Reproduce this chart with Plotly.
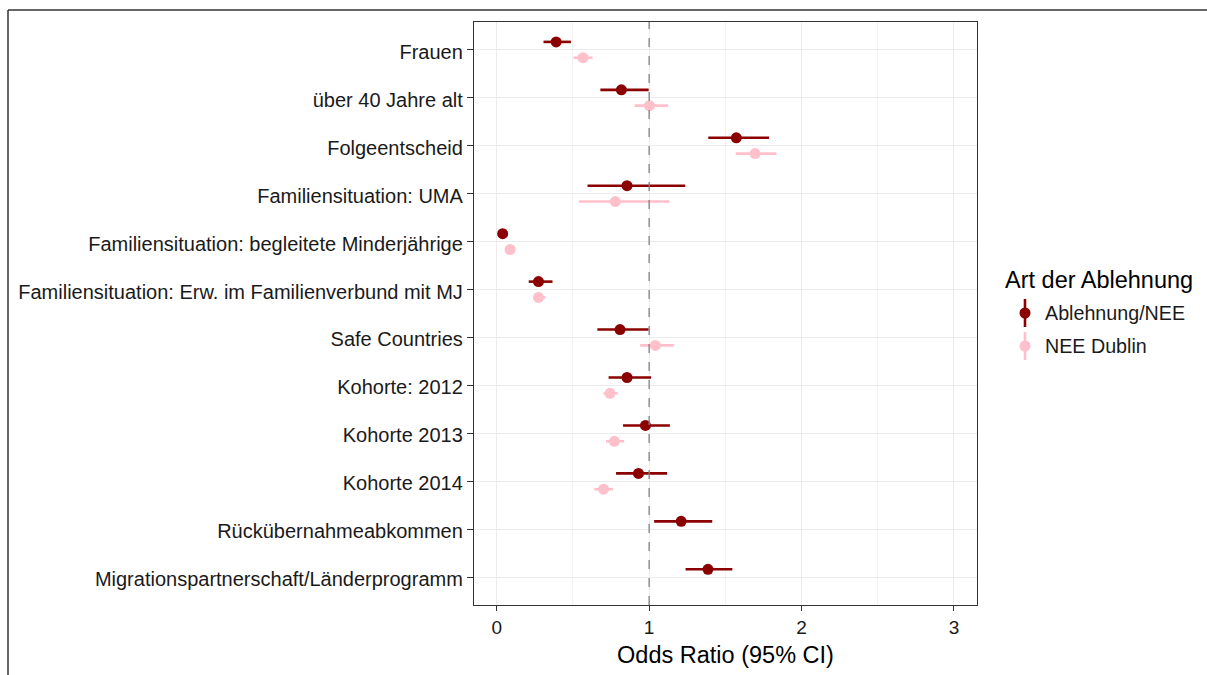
import plotly.graph_objects as go

categories = [
    "Frauen",
    "über 40 Jahre alt",
    "Folgeentscheid",
    "Familiensituation: UMA",
    "Familiensituation: begleitete Minderjährige",
    "Familiensituation: Erw. im Familienverbund mit MJ",
    "Safe Countries",
    "Kohorte: 2012",
    "Kohorte 2013",
    "Kohorte 2014",
    "Rückübernahmeabkommen",
    "Migrationspartnerschaft/Länderprogramm",
]

series_names = ["Ablehnung/NEE", "NEE Dublin"]

or_main = [0.39, 0.818, 1.572, 0.855, 0.039, 0.274, 0.809, 0.855, 0.976, 0.93, 1.21, 1.386]
lo_main = [0.307, 0.68, 1.388, 0.596, 0.025, 0.21, 0.66, 0.734, 0.829, 0.783, 1.033, 1.239]
hi_main = [0.487, 0.997, 1.787, 1.237, 0.055, 0.366, 0.997, 1.013, 1.136, 1.118, 1.414, 1.546]

or_dub = [0.566, 1.002, 1.695, 0.778, 0.088, 0.274, 1.041, 0.743, 0.772, 0.701, None, None]
lo_dub = [0.504, 0.905, 1.568, 0.539, 0.075, 0.241, 0.941, 0.70, 0.717, 0.64, None, None]
hi_dub = [0.629, 1.125, 1.835, 1.134, 0.102, 0.32, 1.162, 0.794, 0.836, 0.763, None, None]

x_ticks = [0, 1, 2, 3]

colors = ["#8B0000", "#FFC0CB"]
dodge = 0.165

FONT = "Liberation Sans, Arial, sans-serif"

fig = go.Figure()

for k, (vals, lo, hi) in enumerate([(or_main, lo_main, hi_main), (or_dub, lo_dub, hi_dub)]):
    xs, ys, ep, em = [], [], [], []
    for i, v in enumerate(vals):
        if v is None:
            continue
        xs.append(v)
        ys.append(i + (-dodge if k == 0 else dodge))
        ep.append(hi[i] - v)
        em.append(v - lo[i])
    fig.add_trace(go.Scatter(
        x=xs, y=ys, mode="markers", name=series_names[k],
        marker=dict(color=colors[k], size=11, line=dict(width=0)),
        error_x=dict(type="data", array=ep, arrayminus=em, symmetric=False,
                     width=0, thickness=2.6, color=colors[k]),
        showlegend=False,
    ))

# plot area geometry in pixels
L, R, T, B = 474, 977, 22, 605
W, H = 1207, 675


def px(x):
    return (x - L) / (R - L)


def py(y):
    return (B - y) / (B - T)


shapes = [
    dict(type="line", xref="x", yref="paper", x0=1, x1=1, y0=0, y1=1,
         line=dict(color="#808080", width=1.3, dash="dash"), layer="above"),
    # outer frame (top and left edges)
    dict(type="line", xref="paper", yref="paper", x0=px(8), x1=px(W + 5), y0=py(10), y1=py(10),
         line=dict(color="#333333", width=1.5)),
    dict(type="line", xref="paper", yref="paper", x0=px(8), x1=px(8), y0=py(10), y1=py(H + 5),
         line=dict(color="#333333", width=1.5)),
]

annotations = [
    dict(text="Art der Ablehnung", xref="paper", yref="paper", x=px(1003), y=py(280),
         xanchor="left", yanchor="middle", showarrow=False,
         font=dict(family=FONT, size=23.5, color="#000000")),
]

leg_y = [313, 346]
for k, yy in enumerate(leg_y):
    shapes.append(dict(type="line", xref="paper", yref="paper", x0=px(1025), x1=px(1025),
                       y0=py(yy - 14), y1=py(yy + 14), line=dict(color=colors[k], width=2.6)))
    shapes.append(dict(type="circle", xref="paper", yref="paper", xsizemode="pixel", ysizemode="pixel",
                       xanchor=px(1025), yanchor=py(yy), x0=-5.5, x1=5.5, y0=-5.5, y1=5.5,
                       fillcolor=colors[k], line=dict(width=0)))
    annotations.append(dict(text=series_names[k], xref="paper", yref="paper", x=px(1043), y=py(yy),
                            xanchor="left", yanchor="middle", showarrow=False,
                            font=dict(family=FONT, size=19.7, color="#1a1a1a")))

fig.update_layout(
    width=W, height=H,
    margin=dict(l=L, r=W - R, t=T, b=H - B, pad=0),
    paper_bgcolor="white", plot_bgcolor="white",
    font=dict(family=FONT, size=20, color="#1a1a1a"),
    shapes=shapes, annotations=annotations,
    showlegend=False,
    xaxis=dict(
        range=[-0.149, 3.151], tickvals=x_ticks, ticktext=[str(t) for t in x_ticks],
        showgrid=True, gridcolor="#EBEBEB", gridwidth=1.2,
        minor=dict(tickvals=[0.5, 1.5, 2.5], showgrid=True, gridcolor="#F2F2F2", gridwidth=0.8, ticks=""),
        zeroline=False, showline=True, mirror=True, linecolor="#333333", linewidth=1.3,
        ticks="outside", ticklen=5, tickcolor="#333333", tickwidth=1.2,
        tickfont=dict(family=FONT, size=19, color="#1a1a1a"),
        title=dict(text="Odds Ratio (95% CI)", font=dict(family=FONT, size=23.5, color="#000000"), standoff=9),
    ),
    yaxis=dict(
        range=[11.58, -0.58], tickvals=list(range(len(categories))), ticktext=categories,
        showgrid=True, gridcolor="#EBEBEB", gridwidth=1.2,
        zeroline=False, showline=True, mirror=True, linecolor="#333333", linewidth=1.3,
        ticks="outside", ticklen=6, tickcolor="#333333", tickwidth=1.2,
        ticklabelshift=-2,
        tickfont=dict(family=FONT, size=20, color="#1a1a1a"),
    ),
)

fig.write_html("out.html")
